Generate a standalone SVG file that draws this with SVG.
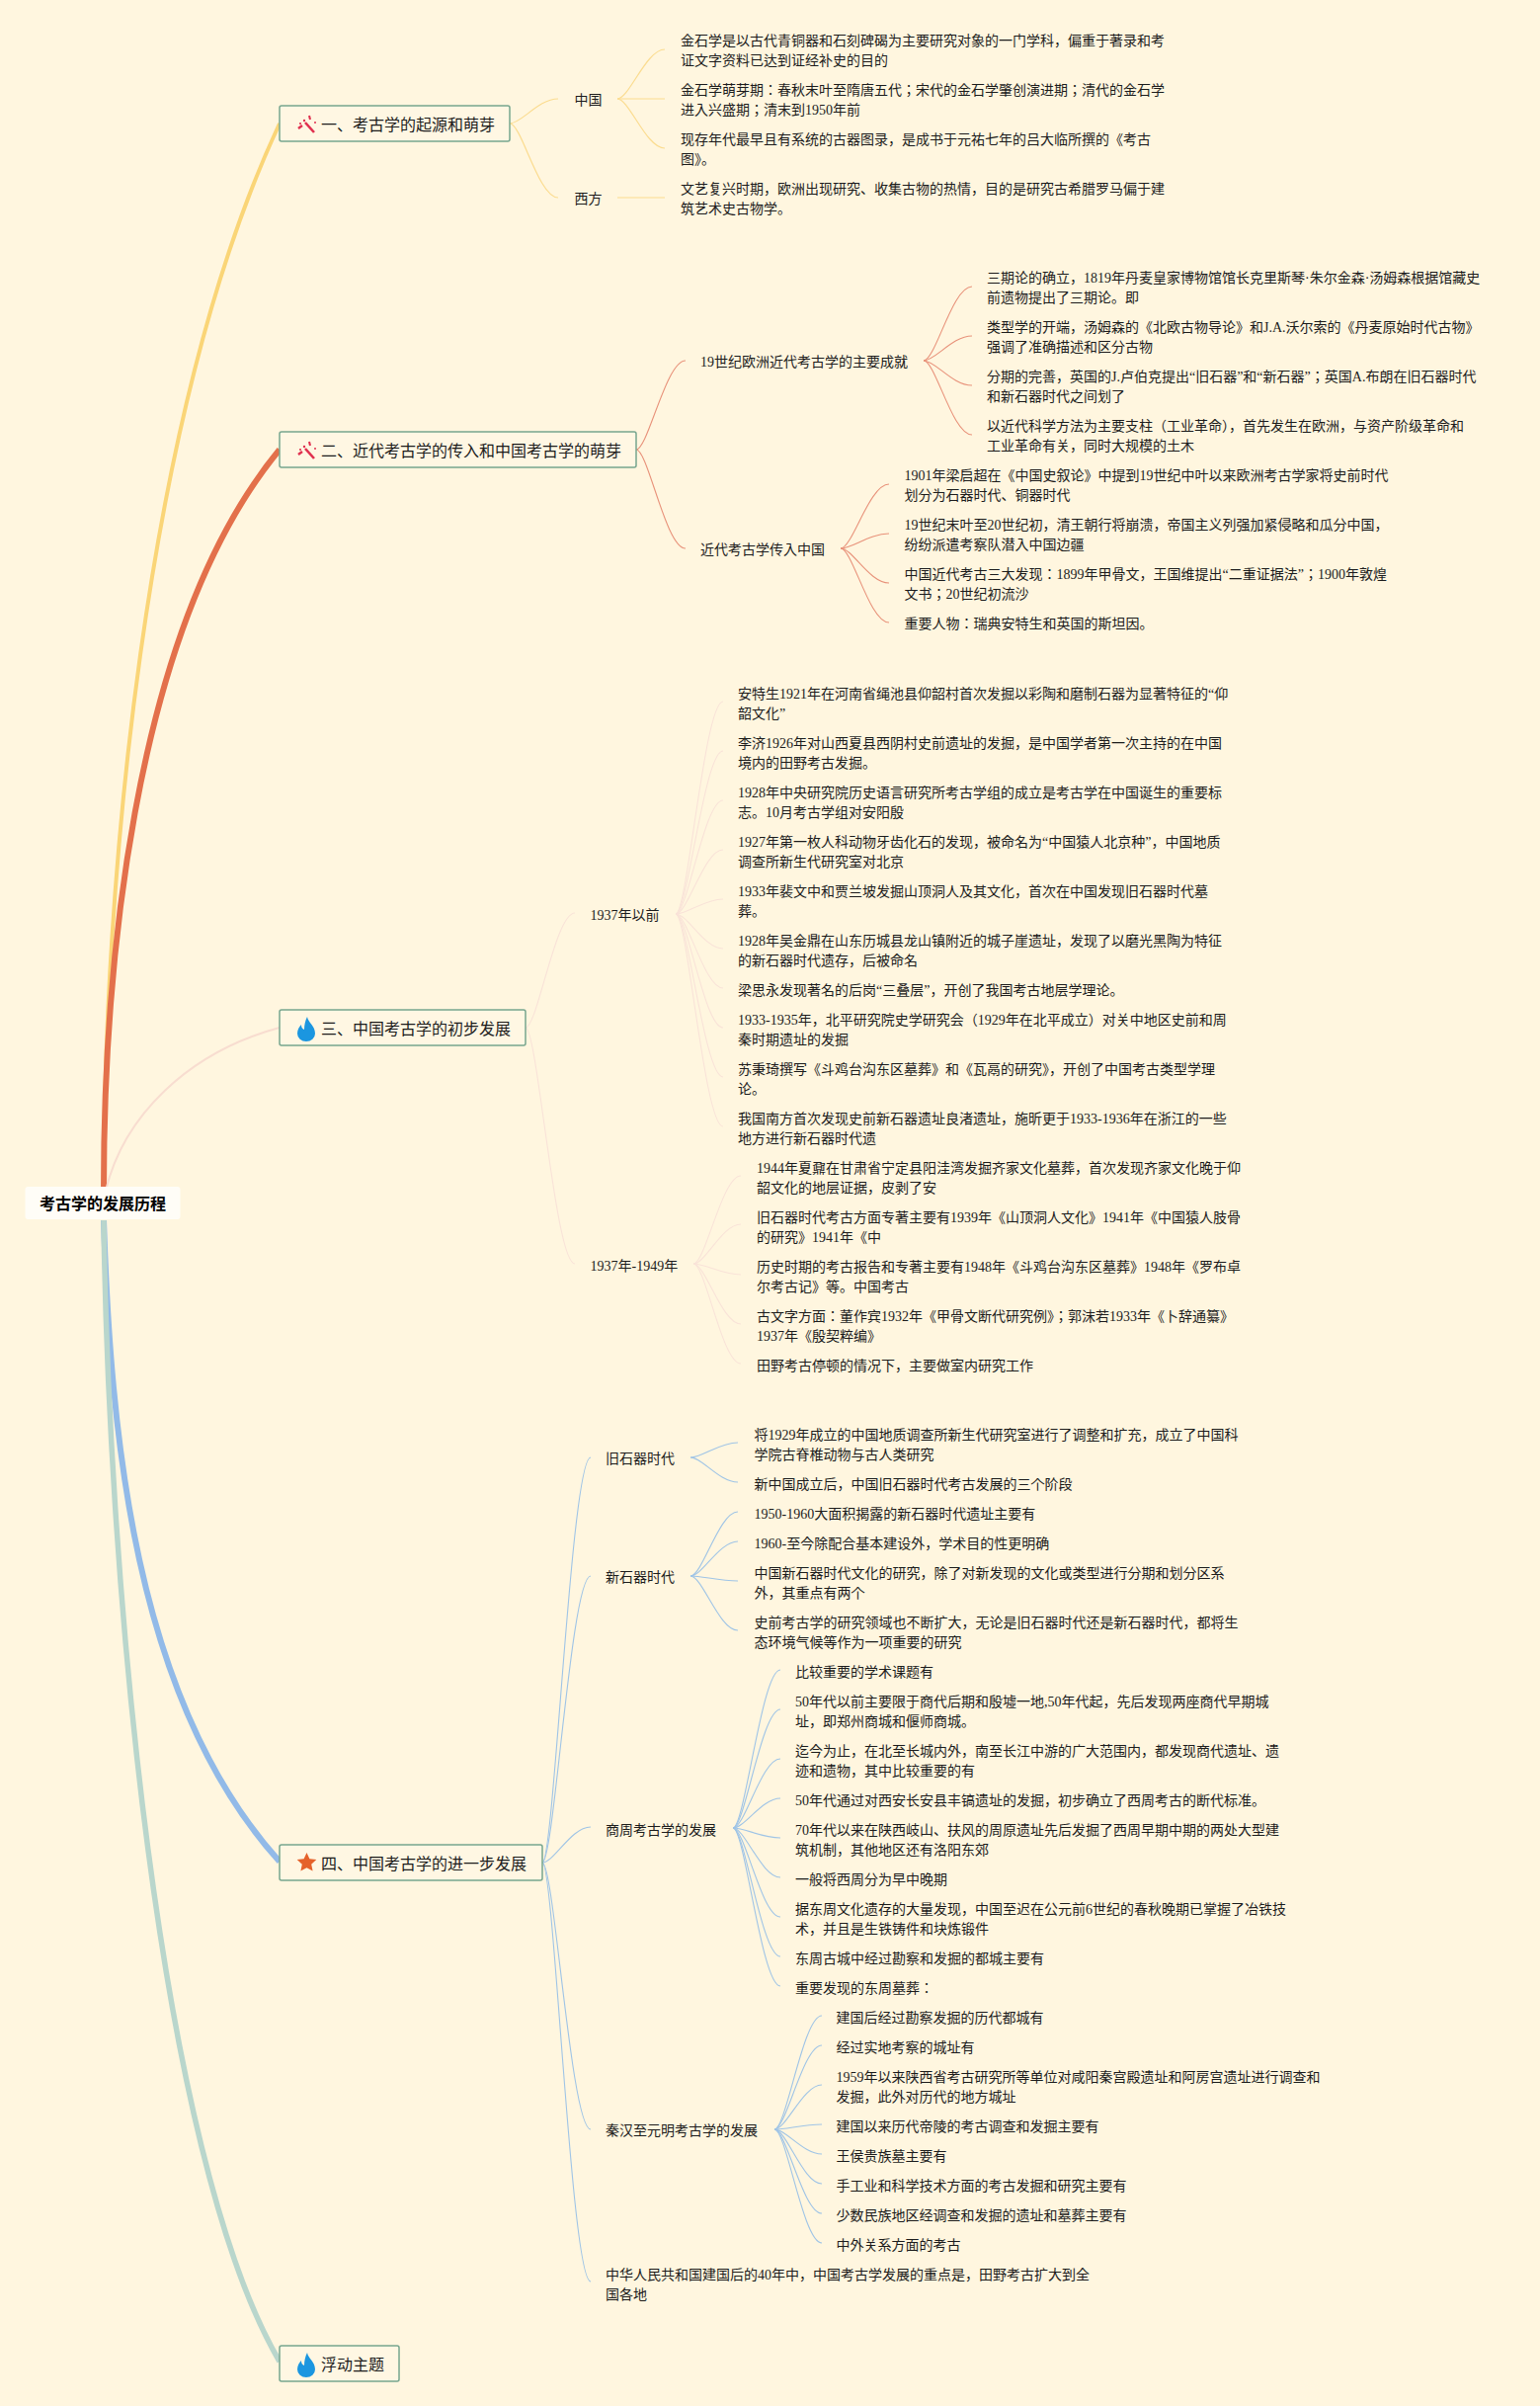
<svg xmlns="http://www.w3.org/2000/svg" width="1559" height="2435" viewBox="0 0 1559 2435">
<style>
text{font-family:"Liberation Serif","Noto Sans CJK JP","Noto Sans CJK SC",serif;fill:#1c1c1c}
.l{font-size:14px}
.tp{font-size:16px;font-family:"Liberation Sans","Noto Sans CJK SC",sans-serif}
.rt{font-size:16px;font-weight:700;font-family:"Liberation Sans","Noto Sans CJK SC",sans-serif;fill:#000}
.box{fill:#fff7e3;stroke:#77a68f;stroke-width:1.5}
path{fill:none}
.y{stroke:#fbdc90;stroke-width:1.2}
.o{stroke:#e8927a;stroke-width:1.1}
.p{stroke:#f9e3d8;stroke-width:1.1}
.b{stroke:#9fc4e6;stroke-width:1.1}
.fl{fill:#1b96e0}
.cr{fill:#e0304f;stroke:none}
</style>
<defs>
<g id="cracker"><path d="M309 -2L318 8" style="fill:none;stroke:#e0304f;stroke-width:2.600"/><path d="M302 4L306 1" style="fill:none;stroke:#e0304f;stroke-width:2.400"/><circle class="cr" cx="304" cy="-1" r="1.100"/><circle class="cr" cx="308" cy="-4" r="1.200"/><path d="M313 -9L314 -5" style="fill:none;stroke:#e0304f;stroke-width:2"/><circle class="cr" cx="319" cy="-2" r="1"/></g>
<path id="flame" d="M311 -11c1 6 8 9 8 17a9 8 0 0 1-18 0c0-4 2-7 4-9c0 3 1 4 3 5c0-5 1-9 3-13z" class="fl" style="fill:#1b96e0"/>
</defs>
<rect width="1559" height="2435" fill="#fff6df"/>
<g id="connectors">
<path d="M105 1205C105 900 145 420 283 125" stroke="#fad577" stroke-width="4"/>
<path d="M105 1205C105 1000 130 640 283 455" stroke="#e3704b" stroke-width="6"/>
<path d="M107 1205C125 1130 190 1065 283 1040" stroke="#f8ddd0" stroke-width="2"/>
<path d="M105 1235C112 1450 135 1720 283 1884" stroke="#92bae8" stroke-width="6"/>
<path d="M105 1235C110 1600 160 2180 283 2390" stroke="#b9d6cc" stroke-width="5.500"/>
<g class="y">
<path class="y" d="M516 125c12 0 29-25 49-25"/><path class="y" d="M516 125c12 0 29 75 49 75"/>
<path class="y" d="M625 100c12 0 29-50 48-50"/><path class="y" d="M625 100H673"/><path class="y" d="M625 100c12 0 29 50 48 50"/><path class="y" d="M625 200H673"/>
</g>
<g>
<path class="o" d="M644 455c12 0 30-90 50-90"/><path class="o" d="M644 455c12 0 30 100 50 100"/>
<path class="o" d="M935 365c12 0 29-75 49-75"/><path class="o" d="M935 365c12 0 29-25 49-25"/><path class="o" d="M935 365c12 0 29 25 49 25"/><path class="o" d="M935 365c12 0 29 75 49 75"/>
<path class="o" d="M851 555c12 0 29-65 49-65"/><path class="o" d="M851 555c12 0 29-15 49-15"/><path class="o" d="M851 555c12 0 29 35 49 35"/><path class="o" d="M851 555c12 0 29 75 49 75"/>
</g>
<g>
<path class="p" d="M532 1040c12 0 30-116 50-116"/><path class="p" d="M532 1040c12 0 30 239 50 239"/>
<path class="p" d="M684 925c12 0 29-215 48-215"/><path class="p" d="M684 925c12 0 29-165 48-165"/><path class="p" d="M684 925c12 0 29-115 48-115"/><path class="p" d="M684 925c12 0 29-65 48-65"/><path class="p" d="M684 925c12 0 29-15 48-15"/><path class="p" d="M684 925c12 0 29 35 48 35"/><path class="p" d="M684 925c12 0 29 75 48 75"/><path class="p" d="M684 925c12 0 29 115 48 115"/><path class="p" d="M684 925c12 0 29 165 48 165"/><path class="p" d="M684 925c12 0 29 215 48 215"/>
<path class="p" d="M702 1279c12 0 29-89 48-89"/><path class="p" d="M702 1279c12 0 29-40 48-40"/><path class="p" d="M702 1279c12 0 29 11 48 11"/><path class="p" d="M702 1279c12 0 29 61 48 61"/><path class="p" d="M702 1279c12 0 29 101 48 101"/>
</g>
<g>
<path class="b" d="M549 1885c12 0 29-410 49-410"/><path class="b" d="M549 1885c12 0 29-290 49-290"/><path class="b" d="M549 1885c12 0 29-36 49-36"/><path class="b" d="M549 1885c12 0 29 270 49 270"/><path class="b" d="M549 1885c12 0 29 424 49 424"/>
<path class="b" d="M699 1475c12 0 29-15 48-15"/><path class="b" d="M699 1475c12 0 29 25 48 25"/>
<path class="b" d="M699 1595c12 0 29-65 48-65"/><path class="b" d="M699 1595c12 0 29-35 48-35"/><path class="b" d="M699 1595c12 0 29 5 48 5"/><path class="b" d="M699 1595c12 0 29 55 48 55"/>
<path class="b" d="M742 1850c12 0 29-160 48-160"/><path class="b" d="M742 1850c12 0 29-120 48-120"/><path class="b" d="M742 1850c12 0 29-70 48-70"/><path class="b" d="M742 1850c12 0 29-30 48-30"/><path class="b" d="M742 1850c12 0 29 10 48 10"/><path class="b" d="M742 1850c12 0 29 50 48 50"/><path class="b" d="M742 1850c12 0 29 90 48 90"/><path class="b" d="M742 1850c12 0 29 130 48 130"/><path class="b" d="M742 1850c12 0 29 160 48 160"/>
<path class="b" d="M784 2155c12 0 29-115 48-115"/><path class="b" d="M784 2155c12 0 29-85 48-85"/><path class="b" d="M784 2155c12 0 29-45 48-45"/><path class="b" d="M784 2155c12 0 29-5 48-5"/><path class="b" d="M784 2155c12 0 29 25 48 25"/><path class="b" d="M784 2155c12 0 29 55 48 55"/><path class="b" d="M784 2155c12 0 29 85 48 85"/><path class="b" d="M784 2155c12 0 29 115 48 115"/>
</g>
</g>
<g id="root"><rect x="25.500" y="1201" width="157" height="33" rx="3" fill="#fffdf7"/><text class="rt" x="40" y="1224">考古学的发展历程</text></g>

<g id="topic1"><rect class="box" x="283" y="107" width="233" height="36" rx="2"/>
<use href="#cracker" y="126"/>
<text class="tp" x="325" y="132">一、考古学的起源和萌芽</text></g>
<g id="n-zg"><text class="l" x="581.500" y="106">中国</text></g>
<g id="n-xf"><text class="l" x="581.500" y="206">西方</text></g>
<g id="l1a"><text class="l" x="689" y="46">金石学是以古代青铜器和石刻碑碣为主要研究对象的一门学科，偏重于著录和考<tspan x="689" dy="20">证文字资料已达到证经补史的目的</tspan></text></g>
<g id="l1b"><text class="l" x="689" y="96">金石学萌芽期：春秋末叶至隋唐五代；宋代的金石学肇创演进期；清代的金石学<tspan x="689" dy="20">进入兴盛期；清末到1950年前</tspan></text></g>
<g id="l1c"><text class="l" x="689" y="146">现存年代最早且有系统的古器图录，是成书于元祐七年的吕大临所撰的《考古<tspan x="689" dy="20">图》。</tspan></text></g>
<g id="l1d"><text class="l" x="689" y="196">文艺复兴时期，欧洲出现研究、收集古物的热情，目的是研究古希腊罗马偏于建<tspan x="689" dy="20">筑艺术史古物学。</tspan></text></g>

<g id="topic2"><rect class="box" x="283" y="437" width="361" height="36" rx="2"/>
<use href="#cracker" y="456"/>
<text class="tp" x="325" y="462">二、近代考古学的传入和中国考古学的萌芽</text></g>
<g id="n-19"><text class="l" x="709" y="371">19世纪欧洲近代考古学的主要成就</text></g>
<g id="n-jd"><text class="l" x="709" y="561">近代考古学传入中国</text></g>
<g id="l2a"><text class="l" x="999" y="286">三期论的确立，1819年丹麦皇家博物馆馆长克里斯琴·朱尔金森·汤姆森根据馆藏史<tspan x="999" dy="20">前遗物提出了三期论。即</tspan></text></g>
<g id="l2b"><text class="l" x="999" y="336">类型学的开端，汤姆森的《北欧古物导论》和J.A.沃尔索的《丹麦原始时代古物》<tspan x="999" dy="20">强调了准确描述和区分古物</tspan></text></g>
<g id="l2c"><text class="l" x="999" y="386">分期的完善，英国的J.卢伯克提出“旧石器”和“新石器”；英国A.布朗在旧石器时代<tspan x="999" dy="20">和新石器时代之间划了</tspan></text></g>
<g id="l2d"><text class="l" x="999" y="436">以近代科学方法为主要支柱（工业革命），首先发生在欧洲，与资产阶级革命和<tspan x="999" dy="20">工业革命有关，同时大规模的土木</tspan></text></g>
<g id="l2e"><text class="l" x="915.500" y="486">1901年梁启超在《中国史叙论》中提到19世纪中叶以来欧洲考古学家将史前时代<tspan x="915.500" dy="20">划分为石器时代、铜器时代</tspan></text></g>
<g id="l2f"><text class="l" x="915.500" y="536">19世纪末叶至20世纪初，清王朝行将崩溃，帝国主义列强加紧侵略和瓜分中国，<tspan x="915.500" dy="20">纷纷派遣考察队潜入中国边疆</tspan></text></g>
<g id="l2g"><text class="l" x="915.500" y="586">中国近代考古三大发现：1899年甲骨文，王国维提出“二重证据法”；1900年敦煌<tspan x="915.500" dy="20">文书；20世纪初流沙</tspan></text></g>
<g id="l2h"><text class="l" x="915.500" y="636">重要人物：瑞典安特生和英国的斯坦因。</text></g>

<g id="topic3"><rect class="box" x="283" y="1022" width="249" height="36" rx="2"/>
<use href="#flame" y="1040"/>
<text class="tp" x="325" y="1047">三、中国考古学的初步发展</text></g>
<g id="n-37a"><text class="l" x="597.500" y="931">1937年以前</text></g>
<g id="n-37b"><text class="l" x="597.500" y="1286">1937年-1949年</text></g>
<g id="l3a"><text class="l" x="747" y="707">安特生1921年在河南省绳池县仰韶村首次发掘以彩陶和磨制石器为显著特征的“仰<tspan x="747" dy="20">韶文化”</tspan></text></g>
<g id="l3b"><text class="l" x="747" y="757">李济1926年对山西夏县西阴村史前遗址的发掘，是中国学者第一次主持的在中国<tspan x="747" dy="20">境内的田野考古发掘。</tspan></text></g>
<g id="l3c"><text class="l" x="747" y="807">1928年中央研究院历史语言研究所考古学组的成立是考古学在中国诞生的重要标<tspan x="747" dy="20">志。10月考古学组对安阳殷</tspan></text></g>
<g id="l3d"><text class="l" x="747" y="857">1927年第一枚人科动物牙齿化石的发现，被命名为“中国猿人北京种”，中国地质<tspan x="747" dy="20">调查所新生代研究室对北京</tspan></text></g>
<g id="l3e"><text class="l" x="747" y="907">1933年裴文中和贾兰坡发掘山顶洞人及其文化，首次在中国发现旧石器时代墓<tspan x="747" dy="20">葬。</tspan></text></g>
<g id="l3f"><text class="l" x="747" y="957">1928年吴金鼎在山东历城县龙山镇附近的城子崖遗址，发现了以磨光黑陶为特征<tspan x="747" dy="20">的新石器时代遗存，后被命名</tspan></text></g>
<g id="l3g"><text class="l" x="747" y="1007">梁思永发现著名的后岗“三叠层”，开创了我国考古地层学理论。</text></g>
<g id="l3h"><text class="l" x="747" y="1037">1933-1935年，北平研究院史学研究会（1929年在北平成立）对关中地区史前和周<tspan x="747" dy="20">秦时期遗址的发掘</tspan></text></g>
<g id="l3i"><text class="l" x="747" y="1087">苏秉琦撰写《斗鸡台沟东区墓葬》和《瓦鬲的研究》，开创了中国考古类型学理<tspan x="747" dy="20">论。</tspan></text></g>
<g id="l3j"><text class="l" x="747" y="1137">我国南方首次发现史前新石器遗址良渚遗址，施昕更于1933-1936年在浙江的一些<tspan x="747" dy="20">地方进行新石器时代遗</tspan></text></g>
<g id="l3k"><text class="l" x="766" y="1187">1944年夏鼐在甘肃省宁定县阳洼湾发掘齐家文化墓葬，首次发现齐家文化晚于仰<tspan x="766" dy="20">韶文化的地层证据，皮剥了安</tspan></text></g>
<g id="l3l"><text class="l" x="766" y="1237">旧石器时代考古方面专著主要有1939年《山顶洞人文化》1941年《中国猿人肢骨<tspan x="766" dy="20">的研究》1941年《中</tspan></text></g>
<g id="l3m"><text class="l" x="766" y="1287">历史时期的考古报告和专著主要有1948年《斗鸡台沟东区墓葬》1948年《罗布卓<tspan x="766" dy="20">尔考古记》等。中国考古</tspan></text></g>
<g id="l3n"><text class="l" x="766" y="1337">古文字方面：董作宾1932年《甲骨文断代研究例》；郭沫若1933年《卜辞通纂》<tspan x="766" dy="20">1937年《殷契粹编》</tspan></text></g>
<g id="l3o"><text class="l" x="766" y="1387">田野考古停顿的情况下，主要做室内研究工作</text></g>

<g id="topic4"><rect class="box" x="283" y="1867" width="266" height="36" rx="2"/>
<path d="M310.500 1875l2.900 6.300 6.900.8-5.100 4.700 1.400 6.800-6.100-3.400-6.100 3.400 1.400-6.800-5.100-4.700 6.900-.8z" style="fill:#e5622b"/>
<text class="tp" x="325" y="1892">四、中国考古学的进一步发展</text></g>
<g id="n-jiu"><text class="l" x="613" y="1481">旧石器时代</text></g>
<g id="n-xin"><text class="l" x="613" y="1601">新石器时代</text></g>
<g id="n-sz"><text class="l" x="613" y="1857">商周考古学的发展</text></g>
<g id="n-qh"><text class="l" x="613" y="2161">秦汉至元明考古学的发展</text></g>
<g id="n-zh"><text class="l" x="613" y="2307">中华人民共和国建国后的40年中，中国考古学发展的重点是，田野考古扩大到全<tspan x="613" dy="20">国各地</tspan></text></g>
<g id="l4a"><text class="l" x="763.500" y="1457">将1929年成立的中国地质调查所新生代研究室进行了调整和扩充，成立了中国科<tspan x="763.500" dy="20">学院古脊椎动物与古人类研究</tspan></text></g>
<g id="l4b"><text class="l" x="763.500" y="1507">新中国成立后，中国旧石器时代考古发展的三个阶段</text></g>
<g id="l4c"><text class="l" x="763.500" y="1537">1950-1960大面积揭露的新石器时代遗址主要有</text></g>
<g id="l4d"><text class="l" x="763.500" y="1567">1960-至今除配合基本建设外，学术目的性更明确</text></g>
<g id="l4e"><text class="l" x="763.500" y="1597">中国新石器时代文化的研究，除了对新发现的文化或类型进行分期和划分区系<tspan x="763.500" dy="20">外，其重点有两个</tspan></text></g>
<g id="l4f"><text class="l" x="763.500" y="1647">史前考古学的研究领域也不断扩大，无论是旧石器时代还是新石器时代，都将生<tspan x="763.500" dy="20">态环境气候等作为一项重要的研究</tspan></text></g>
<g id="l5a"><text class="l" x="805" y="1697">比较重要的学术课题有</text></g>
<g id="l5b"><text class="l" x="805" y="1727">50年代以前主要限于商代后期和殷墟一地,50年代起，先后发现两座商代早期城<tspan x="805" dy="20">址，即郑州商城和偃师商城。</tspan></text></g>
<g id="l5c"><text class="l" x="805" y="1777">迄今为止，在北至长城内外，南至长江中游的广大范围内，都发现商代遗址、遗<tspan x="805" dy="20">迹和遗物，其中比较重要的有</tspan></text></g>
<g id="l5d"><text class="l" x="805" y="1827">50年代通过对西安长安县丰镐遗址的发掘，初步确立了西周考古的断代标准。</text></g>
<g id="l5e"><text class="l" x="805" y="1857">70年代以来在陕西岐山、扶风的周原遗址先后发掘了西周早期中期的两处大型建<tspan x="805" dy="20">筑机制，其他地区还有洛阳东郊</tspan></text></g>
<g id="l5f"><text class="l" x="805" y="1907">一般将西周分为早中晚期</text></g>
<g id="l5g"><text class="l" x="805" y="1937">据东周文化遗存的大量发现，中国至迟在公元前6世纪的春秋晚期已掌握了冶铁技<tspan x="805" dy="20">术，并且是生铁铸件和块炼锻件</tspan></text></g>
<g id="l5h"><text class="l" x="805" y="1987">东周古城中经过勘察和发掘的都城主要有</text></g>
<g id="l5i"><text class="l" x="805" y="2017">重要发现的东周墓葬：</text></g>
<g id="l6a"><text class="l" x="846.500" y="2047">建国后经过勘察发掘的历代都城有</text></g>
<g id="l6b"><text class="l" x="846.500" y="2077">经过实地考察的城址有</text></g>
<g id="l6c"><text class="l" x="846.500" y="2107">1959年以来陕西省考古研究所等单位对咸阳秦宫殿遗址和阿房宫遗址进行调查和<tspan x="846.500" dy="20">发掘，此外对历代的地方城址</tspan></text></g>
<g id="l6d"><text class="l" x="846.500" y="2157">建国以来历代帝陵的考古调查和发掘主要有</text></g>
<g id="l6e"><text class="l" x="846.500" y="2187">王侯贵族墓主要有</text></g>
<g id="l6f"><text class="l" x="846.500" y="2217">手工业和科学技术方面的考古发掘和研究主要有</text></g>
<g id="l6g"><text class="l" x="846.500" y="2247">少数民族地区经调查和发掘的遗址和墓葬主要有</text></g>
<g id="l6h"><text class="l" x="846.500" y="2277">中外关系方面的考古</text></g>

<g id="topic5"><rect class="box" x="283" y="2374" width="121" height="36" rx="2"/>
<use href="#flame" y="2392"/>
<text class="tp" x="325" y="2399">浮动主题</text></g>
</svg>
